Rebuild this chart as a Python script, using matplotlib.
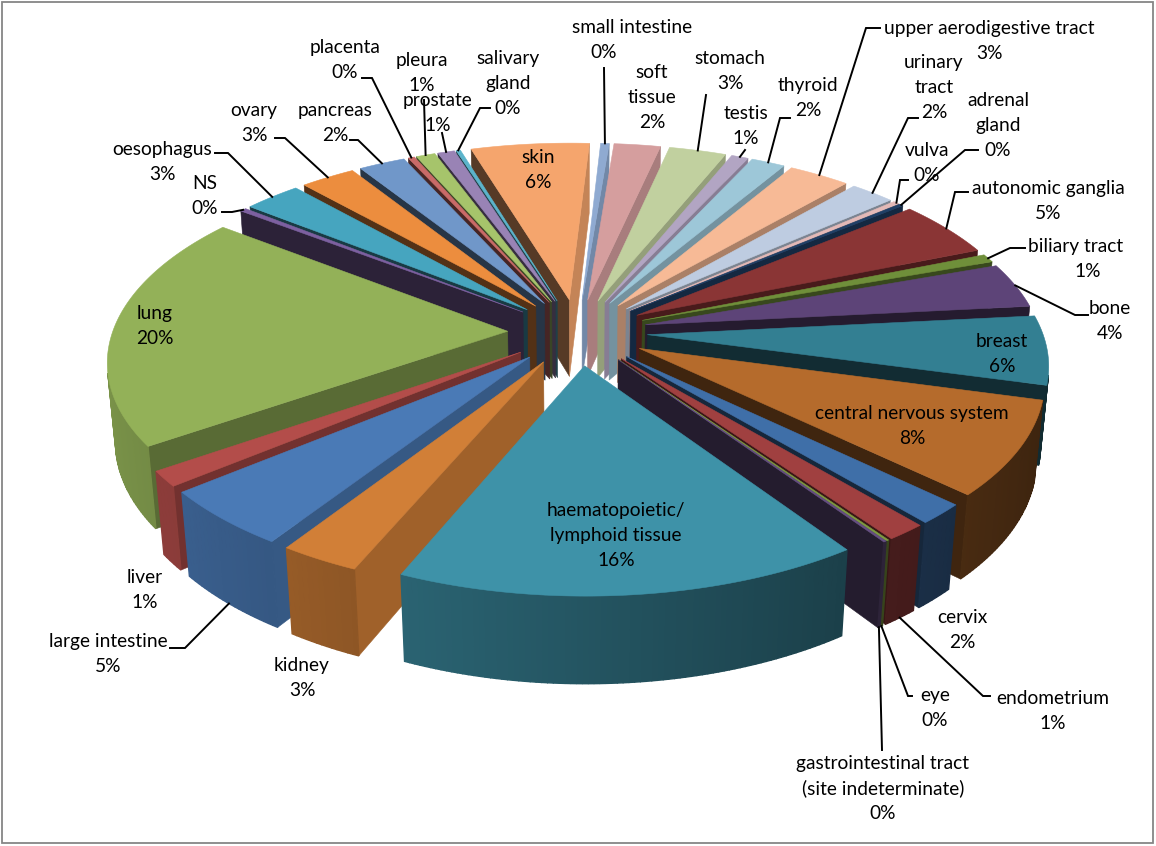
"""
Exploded 3D pie of samples per tissue, drawn on a flat pixel axes with a small
perspective projection.
"""

import numpy as np
import matplotlib
matplotlib.use("Agg")
import matplotlib.pyplot as plt
from matplotlib.patches import Polygon, Rectangle

names = ["adrenal\ngland", "autonomic ganglia", "biliary tract", "bone", "breast",
         "central nervous system", "cervix", "endometrium", "eye",
         "gastrointestinal tract\n(site indeterminate)",
         "haematopoietic/\nlymphoid tissue", "kidney", "large intestine", "liver",
         "lung", "NS", "oesophagus", "ovary", "pancreas", "placenta", "pleura",
         "prostate", "salivary\ngland", "skin", "small intestine", "soft\ntissue",
         "stomach", "testis", "thyroid", "upper aerodigestive tract", "urinary\ntract",
         "vulva"]
values = [0.2, 4.8, 0.7, 3.8, 5.8, 7.9, 1.7, 1.4, 0.1, 0.1, 16.1, 2.8, 4.85, 1.3,
          19.9, 0.3, 2.7, 2.6, 2.2, 0.3, 0.9, 0.8, 0.2, 5.6, 0.4, 2.2, 2.7, 0.8,
          1.6, 2.9, 2.1, 0.3]
colors = ["#1f3f66", "#8a3535", "#6f8f3a", "#5d4478", "#337f92", "#b56b2c", "#3f6fa8",
          "#a04040", "#7e9c40", "#664f83", "#3e92a8", "#d17f37", "#4a7ab6", "#b34d4a",
          "#93b158", "#7d60a0", "#46a5bf", "#ec8d3e", "#7097c9", "#c96a68", "#a6c46b",
          "#9983b5", "#5bb4cb", "#f5a56d", "#8faad1", "#d59e9e", "#c1d09f", "#b2a5c3",
          "#9dc7d8", "#f7ba96", "#becce1", "#e3b9b7"]

# label centre (first line) per slice
label_xy = [(998, 100), (1048, 188), (1076, 246), (1110, 308), (1002, 341), (912, 413),
            (962, 617), (1053, 698), (935, 695), (883, 763), (616, 510), (302, 665),
            (108, 641), (145, 577), (155, 313), (205, 183), (162, 149), (254, 110),
            (335, 110), (345, 47), (422, 60), (438, 100), (508, 58), (538, 157),
            (632, 27), (652, 72), (730, 58), (746, 113), (808, 85), (989, 28),
            (934, 62), (927, 150)]
# leader start and elbow, None when the label sits without a leader
leaders = [[(978, 150), (965, 150)], [(968, 192), (955, 192)], [(1025, 248), (1010, 248)],
           [(1088, 315), (1075, 315)], None, None, None, [(990, 696), (983, 696)],
           [(912, 696), (908, 696)], [(882, 750)], None, None,
           [(170, 648), (185, 648)], None, None, [(222, 212), (232, 212)],
           [(215, 153), (228, 153)], [(275, 138), (285, 138)], [(350, 140), (358, 140)],
           [(362, 78), (372, 78)], [(424, 100)], [(442, 133)], [(490, 108), (480, 108)],
           None, [(604, 68)], None, [(706, 95)], [(745, 150)], [(790, 118), (780, 118)],
           [(880, 28), (866, 28)], [(918, 118), (908, 118)], [(908, 180), (900, 180)]]

LINE_PX = 25
PCT_SHIFT = {"small intestine": -28, "biliary tract": 12}

START_DEG = 50.0
EXPLODE = 0.177
HEIGHT = 0.2276
ELEV = np.radians(28.3)
DIST = 6.24
FOCAL = 2465.0
CX, CY = 577.5, 332.0


def project(x, y, z):
    depth = DIST + y * np.cos(ELEV) - z * np.sin(ELEV)
    up = y * np.sin(ELEV) + z * np.cos(ELEV)
    return CX + FOCAL * x / depth, CY - FOCAL * up / depth


def shade(color, k):
    rgb = np.array(matplotlib.colors.to_rgb(color)) * k
    return tuple(np.clip(rgb, 0, 1))


def facing(p, normal):
    eye = np.array([0, -DIST * np.cos(ELEV), DIST * np.sin(ELEV)])
    return np.dot(eye - np.array(p), normal) > 0


def add_face(ax, pts, color, lw=0.4):
    xy = [project(*p) for p in pts]
    ax.add_patch(Polygon(xy, closed=True, facecolor=color, edgecolor=color, lw=lw))


fig = plt.figure(figsize=(11.56, 8.46), dpi=100)
plt.rcParams["font.family"] = ["Lato", "DejaVu Sans"]
ax = fig.add_axes([0, 0, 1, 1])
ax.set_xlim(0, 1156)
ax.set_ylim(846, 0)
ax.axis("off")

fractions = np.array(values) / sum(values)
edges = np.radians(START_DEG + 360 * np.concatenate([[0], np.cumsum(fractions)]))
mids = (edges[:-1] + edges[1:]) / 2

# far slices first so nearer ones paint over them
for i in np.argsort(-np.cos(mids)):
    a0, a1 = edges[i], edges[i + 1]
    tx, ty = EXPLODE * np.sin(mids[i]), EXPLODE * np.cos(mids[i])
    arc = np.linspace(a0, a1, max(int(np.degrees(a1 - a0) / 0.7), 2))
    rx, ry = tx + np.sin(arc), ty + np.cos(arc)
    col = colors[i]

    # radial walls, start side then end side
    for ang, sign, ex, ey in [(a0, -1, rx[0], ry[0]), (a1, 1, rx[-1], ry[-1])]:
        normal = np.array([sign * np.cos(ang), -sign * np.sin(ang), 0.0])
        if facing((tx, ty, 0), normal):
            k = 0.35 + 0.45 * max(normal[0], 0)
            add_face(ax, [(tx, ty, 0), (ex, ey, 0), (ex, ey, -HEIGHT), (tx, ty, -HEIGHT)],
                     shade(col, k))

    # outer rim, one shade per segment
    for j in range(len(arc) - 1):
        am = (arc[j] + arc[j + 1]) / 2
        normal = np.array([np.sin(am), np.cos(am), 0.0])
        if facing((rx[j], ry[j], 0), normal):
            k = 0.58 - 0.25 * normal[0]
            add_face(ax, [(rx[j], ry[j], 0), (rx[j + 1], ry[j + 1], 0),
                          (rx[j + 1], ry[j + 1], -HEIGHT), (rx[j], ry[j], -HEIGHT)],
                     shade(col, k), lw=1.0)

    add_face(ax, [(tx, ty, 0)] + [(x, y, 0) for x, y in zip(rx, ry)], col)

# labels and leader lines
for i, name in enumerate(names):
    pct = round(fractions[i] * 100)
    lx, ly = label_xy[i]
    lines = name.split("\n")
    for k, line in enumerate(lines):
        ax.text(lx, ly + 6 + k * LINE_PX, line, ha="center", va="baseline",
                fontsize=13.8, color="black", zorder=5)
    ax.text(lx + PCT_SHIFT.get(name, 0), ly + 6 + len(lines) * LINE_PX, f"{pct}%",
            ha="center", va="baseline", fontsize=13.8, color="black", zorder=5)
    if leaders[i] is None:
        continue
    mx = EXPLODE * np.sin(mids[i]) + np.sin(mids[i])
    my = EXPLODE * np.cos(mids[i]) + np.cos(mids[i])
    z = 0 if np.cos(mids[i]) > -0.2 else -HEIGHT
    path = leaders[i] + [project(mx, my, z)]
    ax.plot([p[0] for p in path], [p[1] for p in path], color="black", lw=1.4,
            solid_joinstyle="miter", zorder=4)

ax.add_patch(Rectangle((2, 2), 1151, 841, fill=False, edgecolor="#868686", lw=1.3))

fig.savefig("out.png", dpi=100)
plt.close(fig)
